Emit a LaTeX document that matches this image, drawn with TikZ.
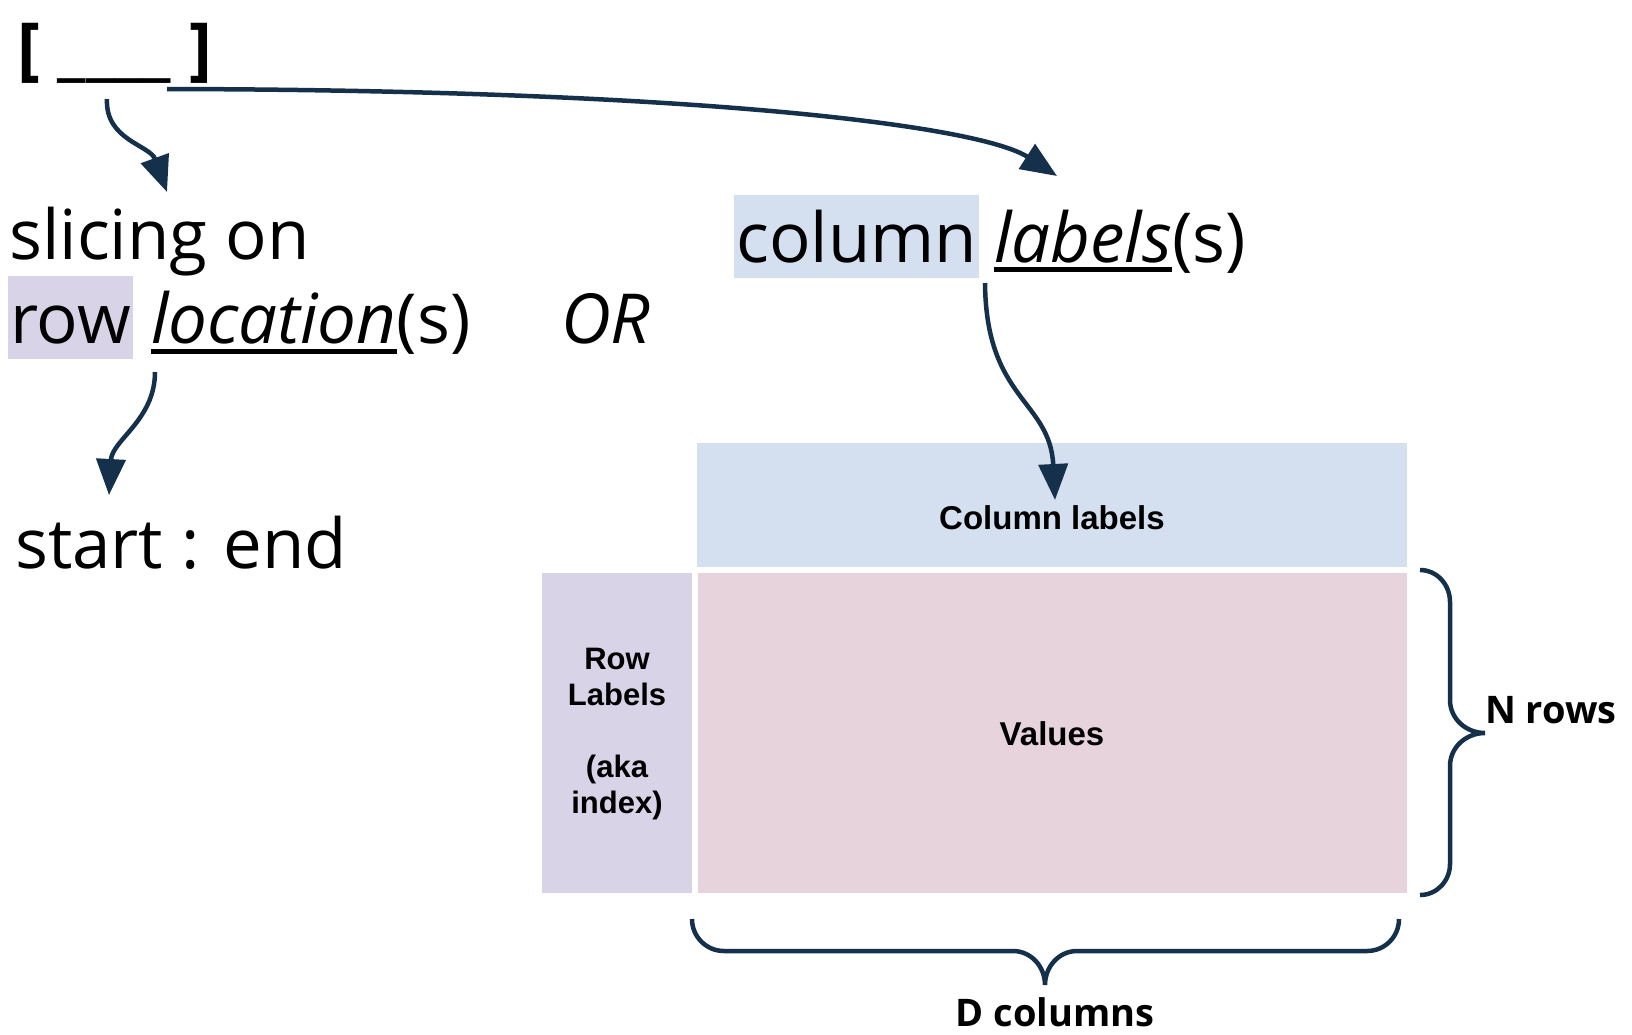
\documentclass[tikz,border=0pt]{standalone}
\usepackage{fontspec}
\setmainfont{Open Sans}
\newfontfamily\tblfont{Liberation Sans}
\usetikzlibrary{arrows.meta}
\definecolor{navy}{RGB}{20,48,75}
\definecolor{colblue}{RGB}{212,224,240}
\definecolor{rowlav}{RGB}{216,211,230}
\definecolor{valpink}{RGB}{230,211,220}

\begin{document}
\begin{tikzpicture}[x=1pt,y=1pt,
  big/.style={font=\fontsize{69}{80}\selectfont, inner sep=0pt, anchor=base west},
  bigit/.style={big, font=\itshape\fontsize{69}{80}\selectfont},
  hl/.style={big, inner xsep=2pt, inner ysep=0pt, text height=67pt, text depth=16pt},
  conn/.style={draw=navy, line width=4.5pt, -{Triangle[length=36pt,width=29pt]}},
  brc/.style={draw=navy, line width=4.5pt},
  cell/.style={inner sep=0pt, anchor=north west},
  tbl/.style={font=\tblfont\bfseries\fontsize{33}{36}\selectfont, inner sep=0pt},
  dim/.style={font=\bfseries\fontsize{38}{42}\selectfont, inner sep=0pt},
  uline/.style={line width=5pt}
]
\useasboundingbox (0,0) rectangle (1632,-1034);

% ---- indexer and its two readings ----
\node[big, font=\bfseries\fontsize{69}{80}\selectfont] (brk) at (17,-72) {[ \_\_\_\_ ]};

\node[big] (slice) at (9,-259) {slicing on};
\node[hl, fill=rowlav] (row) at (8,-343) {row};
\node[bigit] (loc) at (151,-343) {location};
\node[big] (locs) at (loc.base east) {(s)};
\draw[uline] ([yshift=-8pt]loc.base west) -- ([yshift=-8pt]loc.base east);

\node[bigit] (or) at (561,-343) {OR};

\node[big] (range) at (15,-568) {start : end};

\node[hl, fill=colblue] (col) at (734,-262) {column};
\node[bigit] (lab) at (994,-262) {labels};
\node[big] (labs) at (lab.base east) {(s)};
\draw[uline] ([yshift=-7pt]lab.base west) -- ([yshift=-7pt]lab.base east);

% ---- data frame layout ----
\node[cell, fill=colblue, minimum width=710pt, minimum height=124pt] (colbox) at (697,-443) {};
\node[cell, fill=rowlav, minimum width=150pt, minimum height=320pt] (rowbox) at (542,-573) {};
\node[cell, fill=valpink, minimum width=709pt, minimum height=320pt] (valbox) at (698,-573) {};

\node[tbl, anchor=base] (coltxt) at (1052,-529) {Column labels};
\node[tbl, anchor=base] (valtxt) at (1052,-745) {Values};
\node[tbl, align=center, font=\tblfont\bfseries\fontsize{31}{36}\selectfont] (rowtxt) at (617,-734)
  {Row\\Labels\\[36pt](aka\\index)};

% ---- braces ----
\draw[brc] (1420,-570) to[out=0,in=90] (1450,-602) -- (1450,-700)
  to[out=-90,in=180] (1485,-733) to[out=180,in=90] (1450,-766) -- (1450,-864)
  to[out=-90,in=0] (1420,-895);
\node[dim, anchor=base west] (nrows) at (1485,-723) {N rows};

\draw[brc] (692,-919) to[out=-90,in=180] (724,-951) -- (1013,-951)
  to[out=0,in=90] (1045,-985) to[out=90,in=180] (1077,-951) -- (1367,-951)
  to[out=0,in=-90] (1399,-919);
\node[dim, anchor=base] (dcols) at (1055,-1026) {D columns};

% ---- connectors ----
\coordinate (a1s) at (107,-99);
\coordinate (a1e) at (167,-192);
\coordinate (a2s) at (167,-89);
\coordinate (a2e) at (1057,-176);
\coordinate (a3s) at (155,-372);
\coordinate (a3e) at (109,-495);
\coordinate (a4s) at (985,-283);
\coordinate (a4e) at (1055,-500);

\draw[conn] (a1s) .. controls (105,-140) and (150,-145) .. (a1e);
\draw[conn] (a2s) .. controls (700,-90) and (980,-126) .. (a2e);
\draw[conn] (a3s) .. controls (155,-420) and (112,-440) .. (a3e);
\draw[conn] (a4s) .. controls (986,-400) and (1050,-400) .. (a4e);
\end{tikzpicture}
\end{document}
